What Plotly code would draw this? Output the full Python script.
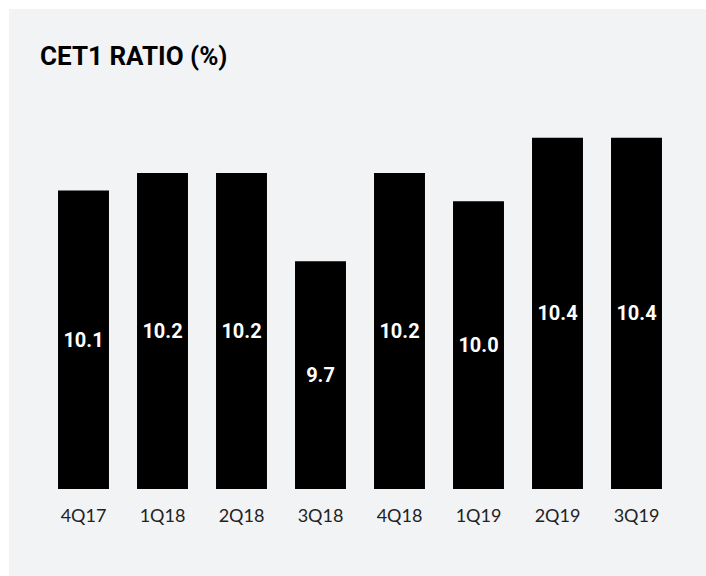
import plotly.graph_objects as go

quarters = ["4Q17", "1Q18", "2Q18", "3Q18", "4Q18", "1Q19", "2Q19", "3Q19"]
cet1_ratio = [10.1, 10.2, 10.2, 9.7, 10.2, 10.04, 10.4, 10.4]
axis_floor = 8.41
axis_top = 10.5

W, H = 706, 576
L, R, T, B = 44, 30, 120, 87
pw, ph = W - L - R, H - T - B

def px_x(px):
    return (px - L) / pw

def px_y(py):
    return (H - B - py) / ph

fig = go.Figure()
fig.add_trace(go.Bar(
    x=quarters,
    y=[v - axis_floor for v in cet1_ratio],
    base=axis_floor,
    text=[f"{v:.1f}" for v in cet1_ratio],
    textposition="inside",
    insidetextanchor="middle",
    textangle=0,
    textfont=dict(family="Roboto, sans-serif", size=20, color="white", weight="bold"),
    marker=dict(color="black", line=dict(width=0)),
    hoverinfo="skip",
))

fig.add_shape(type="rect", xref="paper", yref="paper",
              x0=px_x(9), x1=px_x(W + 5), y0=px_y(H + 5), y1=px_y(9),
              fillcolor="#f2f3f5", line=dict(width=0), layer="below")

fig.add_annotation(text="CET1 RATIO (%)", xref="paper", yref="paper",
                   x=px_x(38), y=px_y(56), xanchor="left", yanchor="middle",
                   showarrow=False,
                   font=dict(family="Roboto, sans-serif", size=26, color="black", weight="bold"))

fig.update_layout(
    width=W, height=H,
    margin=dict(l=L, r=R, t=T, b=B, pad=0),
    paper_bgcolor="white",
    plot_bgcolor="rgba(0,0,0,0)",
    bargap=0.355,
    showlegend=False,
    xaxis=dict(showgrid=False, zeroline=False, showline=False, ticks="",
               tickfont=dict(family="Lato, sans-serif", size=18, color="#222"),
               ticklabelstandoff=14),
    yaxis=dict(range=[axis_floor, axis_top], visible=False, showgrid=False, zeroline=False),
)

fig.write_html("out.html", config={"displayModeBar": False, "staticPlot": True},
               post_script=("document.body.style.margin='0px';"
                            "document.body.style.overflow='hidden';"
                            "document.body.style.background='#f2f3f5';"
                            "document.documentElement.style.background='#f2f3f5';"))
